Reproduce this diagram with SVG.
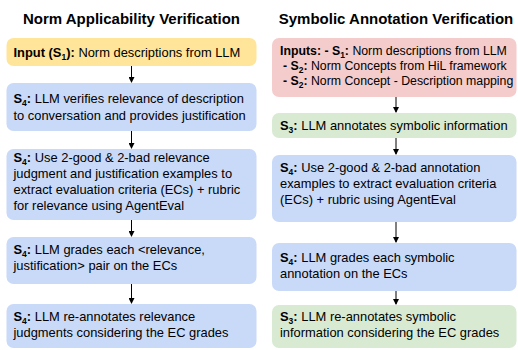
<svg xmlns="http://www.w3.org/2000/svg" width="518" height="350" viewBox="0 0 518 350">
<style>
text{font-family:"Liberation Sans",Arial,sans-serif;font-size:12.9px;fill:#000}
.title{font-size:15px;font-weight:bold;text-anchor:middle}
.small{font-size:12.3px}
.b{font-weight:bold}
.sub{font-size:8.5px}
.yellow{fill:#ffe599}
.blue{fill:#c9daf8}
.red{fill:#f4cccc}
.green{fill:#d9ead3}
.conn{stroke:#000;stroke-width:1;fill:none;marker-end:url(#ah)}
</style>
<defs>
<marker id="ah" viewBox="0 0 6 6" refX="5" refY="3" markerWidth="6" markerHeight="6" markerUnits="userSpaceOnUse" orient="auto">
<path d="M0,0 L6,3 L0,6 z" fill="#000"/>
</marker>
</defs>
<rect width="518" height="350" fill="#fff"/>
<text class="title" x="131.5" y="24">Norm Applicability Verification</text>
<text class="title" x="396" y="24">Symbolic Annotation Verification</text>

<g id="connectors">
<line class="conn" x1="131.5" y1="66" x2="131.5" y2="82"/>
<line class="conn" x1="131.5" y1="131" x2="131.5" y2="148"/>
<line class="conn" x1="131.5" y1="220" x2="131.5" y2="236"/>
<line class="conn" x1="131.5" y1="284" x2="131.5" y2="303"/>
<line class="conn" x1="396" y1="97" x2="396" y2="112"/>
<line class="conn" x1="396" y1="138" x2="396" y2="154"/>
<line class="conn" x1="396" y1="222" x2="396" y2="242"/>
<line class="conn" x1="396" y1="291" x2="396" y2="304"/>
</g>

<g id="left1">
<rect class="yellow" x="6.5" y="38" width="250" height="28" rx="7"/>
<text x="13.5" y="56.5"><tspan class="b">Input (S<tspan class="sub" dy="3">1</tspan><tspan dy="-3">):</tspan></tspan> Norm descriptions from LLM</text>
</g>
<g id="left2">
<rect class="blue" x="6.5" y="83" width="250" height="48" rx="7"/>
<text x="13.5" y="103"><tspan class="b">S<tspan class="sub" dy="3">4</tspan><tspan dy="-3">:</tspan></tspan> LLM verifies relevance of description</text>
<text x="13.5" y="120">to conversation and provides justification</text>
</g>
<g id="left3">
<rect class="blue" x="6.5" y="149" width="250" height="71" rx="7"/>
<text x="13.5" y="161.5"><tspan class="b">S<tspan class="sub" dy="3">4</tspan><tspan dy="-3">:</tspan></tspan> Use 2-good &amp; 2-bad relevance</text>
<text x="13.5" y="177.5">judgment and justification examples to</text>
<text x="13.5" y="193.5">extract evaluation criteria (ECs) + rubric</text>
<text x="13.5" y="209.5">for relevance using AgentEval</text>
</g>
<g id="left4">
<rect class="blue" x="6.5" y="237" width="250" height="47" rx="7"/>
<text x="13.5" y="253.5"><tspan class="b">S<tspan class="sub" dy="3">4</tspan><tspan dy="-3">:</tspan></tspan> LLM grades each &lt;relevance,</text>
<text x="13.5" y="269.5">justification&gt; pair on the ECs</text>
</g>
<g id="left5">
<rect class="blue" x="6.5" y="304" width="250" height="44" rx="7"/>
<text x="13.5" y="320.5"><tspan class="b">S<tspan class="sub" dy="3">4</tspan><tspan dy="-3">:</tspan></tspan> LLM re-annotates relevance</text>
<text x="13.5" y="336.5">judgments considering the EC grades</text>
</g>

<g id="right1">
<rect class="red" x="272" y="38" width="244.5" height="59" rx="7"/>
<text class="small" x="280" y="55"><tspan class="b">Inputs: - S<tspan class="sub" dy="3">1</tspan><tspan dy="-3">:</tspan></tspan> Norm descriptions from LLM</text>
<text class="small" x="283" y="70"><tspan class="b">- S<tspan class="sub" dy="3">2</tspan><tspan dy="-3">:</tspan></tspan> Norm Concepts from HiL framework</text>
<text class="small" x="283" y="84.5"><tspan class="b">- S<tspan class="sub" dy="3">2</tspan><tspan dy="-3">:</tspan></tspan> Norm Concept - Description mapping</text>
</g>
<g id="right2">
<rect class="green" x="272" y="113" width="244.5" height="25" rx="7"/>
<text x="280" y="130"><tspan class="b">S<tspan class="sub" dy="3">3</tspan><tspan dy="-3">:</tspan></tspan> LLM annotates symbolic information</text>
</g>
<g id="right3">
<rect class="blue" x="272" y="155" width="244.5" height="67" rx="7"/>
<text x="280" y="172"><tspan class="b">S<tspan class="sub" dy="3">4</tspan><tspan dy="-3">:</tspan></tspan> Use 2-good &amp; 2-bad annotation</text>
<text x="280" y="188">examples to extract evaluation criteria</text>
<text x="280" y="204">(ECs) + rubric using AgentEval</text>
</g>
<g id="right4">
<rect class="blue" x="272" y="243" width="244.5" height="48" rx="7"/>
<text x="280" y="262"><tspan class="b">S<tspan class="sub" dy="3">4</tspan><tspan dy="-3">:</tspan></tspan> LLM grades each symbolic</text>
<text x="280" y="278">annotation on the ECs</text>
</g>
<g id="right5">
<rect class="green" x="272" y="305" width="244.5" height="43" rx="7"/>
<text x="280" y="320.5"><tspan class="b">S<tspan class="sub" dy="3">3</tspan><tspan dy="-3">:</tspan></tspan> LLM re-annotates symbolic</text>
<text x="280" y="336.5">information considering the EC grades</text>
</g>
</svg>
